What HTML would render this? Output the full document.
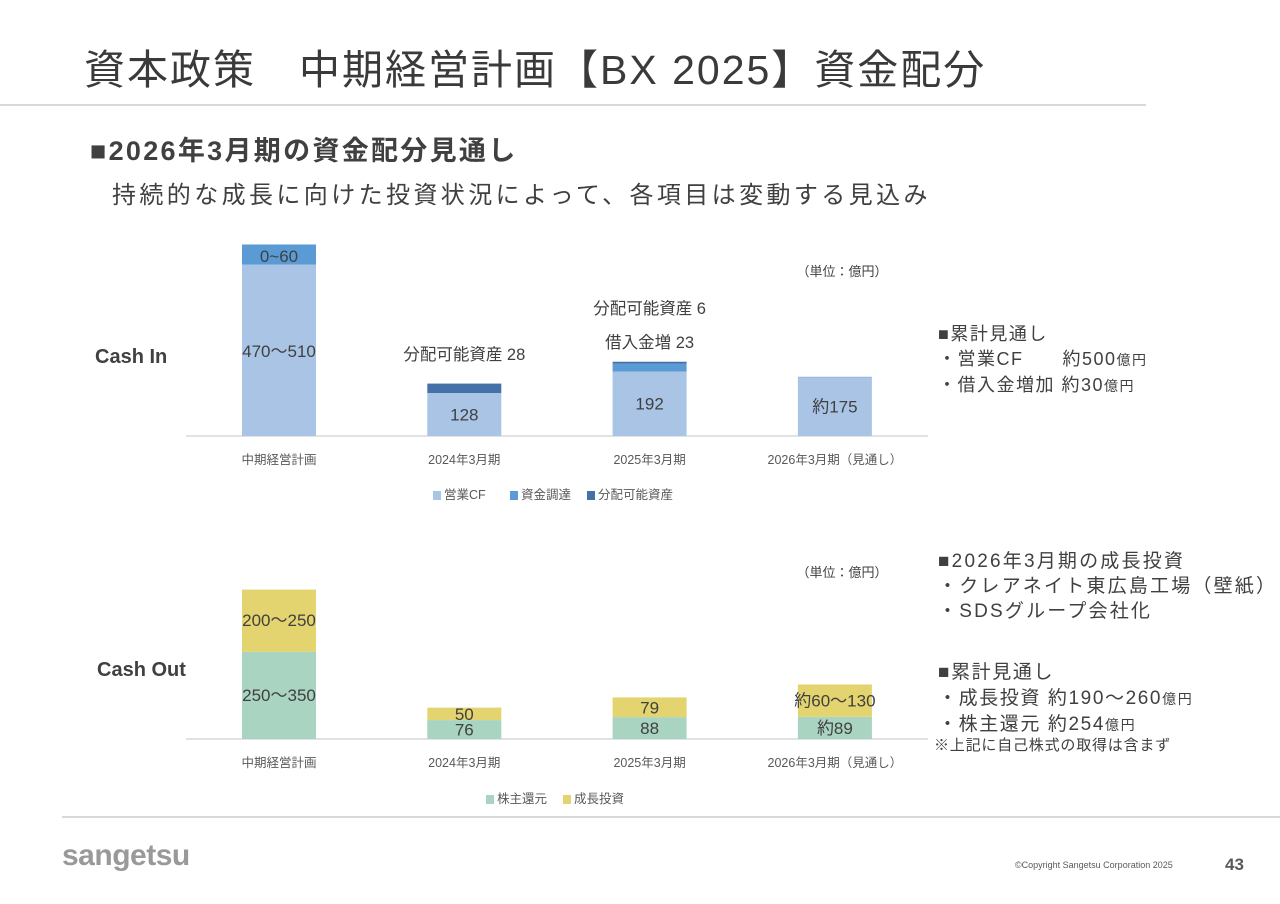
<!DOCTYPE html>
<html><head><meta charset="utf-8">
<style>
body{margin:0;width:1280px;height:904px;background:#fff;position:relative;overflow:hidden;font-family:"Liberation Sans","Noto Sans CJK JP",sans-serif;color:#404040}
.a{position:absolute;white-space:nowrap}
</style></head><body>
<div class="a" style="left:84px;top:36px;font-size:41px;letter-spacing:2px;color:#3a3a3a">資本政策　中期経営計画【BX 2025】資金配分</div>
<div class="a" style="left:0;top:104px;width:1146px;height:2px;background:#d9d9d9"></div>
<div class="a" style="left:90px;top:129px;font-size:27px;letter-spacing:2.3px;font-weight:bold">■2026年3月期の資金配分見通し</div>
<div class="a" style="left:112px;top:175px;font-size:24px;letter-spacing:3.4px">持続的な成長に向けた投資状況によって、各項目は変動する見込み</div>
<div class="a" style="left:95px;top:346px;font-size:20px;font-weight:bold">Cash In</div>
<div class="a" style="left:97px;top:659px;font-size:20px;font-weight:bold">Cash Out</div>
<div class="a" style="left:938px;top:322px;font-size:18px;line-height:25px;letter-spacing:1.5px">■累計見通し<br>・営業CF　　約500<span style="font-size:14px">億円</span><br>・借入金増加 約30<span style="font-size:14px">億円</span></div>
<div class="a" style="left:938px;top:549px;font-size:19px;line-height:25px;letter-spacing:2.2px">■2026年3月期の成長投資<br>・クレアネイト東広島工場（壁紙）<br>・SDSグループ会社化</div>
<div class="a" style="left:938px;top:660px;font-size:19px;line-height:26px;letter-spacing:1.6px">■累計見通し<br>・成長投資 約190〜260<span style="font-size:14px">億円</span><br>・株主還元 約254<span style="font-size:14px">億円</span><br><span style="font-size:15px;letter-spacing:0.8px;position:relative;top:-6px;left:-4px">※上記に自己株式の取得は含まず</span></div>
<div class="a" style="left:62px;top:816px;width:1218px;height:2px;background:#d9d9d9"></div>
<div class="a" style="left:62px;top:839px;font-size:30px;font-weight:bold;color:#999;letter-spacing:-0.5px">sangetsu</div>
<div class="a" style="left:1015px;top:860px;font-size:9px;color:#595959">©Copyright Sangetsu Corporation 2025</div>
<div class="a" style="left:1225px;top:855px;font-size:17px;font-weight:bold;color:#595959">43</div>
<svg class="a" style="left:0;top:0" width="1280" height="904">
<g id="cin"></g><g id="cout"></g>
</svg>
<script>
const categories=["中期経営計画","2024年3月期","2025年3月期","2026年3月期（見通し）"];
const inOperatingCF=[510,128,192,175];
const inFunding=[60,0,23,0];
const inDistributable=[0,28,6,1];
const inLabels=["470〜510","128","192","約175"];
const outReturns=[350,76,88,89];
const outGrowth=[250,50,79,130];
const outRetLabels=["250〜350","76","88","約89"];
const outGrowthLabels=["200〜250","50","79","約60〜130"];
const NS="http://www.w3.org/2000/svg";
const xc=i=>279+i*185.3;
function mk(g,t,a,txt){const e=document.createElementNS(NS,t);for(const k in a)e.setAttribute(k,a[k]);if(txt!==undefined)e.textContent=txt;g.appendChild(e);return e;}
function chart(gid,base,scale,series,colors,names,lblY,legendY,legendX){
 const g=document.getElementById(gid);
 const ax=mk(g,'line',{x1:186,x2:928,y1:base,y2:base,stroke:'#d9d9d9','stroke-width':1.5});
 
 categories.forEach((c,i)=>{
  let y=base;
  series.forEach((s,j)=>{const h=s[i]*scale;y-=h;if(h<=0)return;
   const r=mk(g,'rect',{x:xc(i)-37,y:y,width:74,height:h,fill:colors[j]});
   });
  const t=mk(g,'text',{x:xc(i),y:lblY,'text-anchor':'middle','font-size':12.5,fill:'#595959'},c);
  
 });
 let lx=legendX;
 names.forEach((n,j)=>{
  const r=mk(g,'rect',{x:lx,y:legendY-8,width:8,height:9,fill:colors[j]});
  
  const t=mk(g,'text',{x:lx+11,y:legendY,'font-size':12.5,fill:'#595959'},n);
  
  lx+=11+n.length*12.5+16;
 });
 return g;
}
const gi=chart('cin',436,0.336,[inOperatingCF,inFunding,inDistributable],['#aac4e6','#5b9bd5','#4472a8'],['営業CF','資金調達','分配可能資産'],464,499,433);
const go=chart('cout',739,0.249,[outReturns,outGrowth],['#a9d4c1','#e3d46f'],['株主還元','成長投資'],767,803,486);
function lab(g,x,y,s,sz){const t=mk(g,'text',{x:x,y:y,'text-anchor':'middle','font-size':sz||17,fill:'#404040'},s);
 }
inLabels.forEach((s,i)=>{const top=436-inOperatingCF[i]*0.336;const y=i==0?357:(top+436)/2+6;lab(gi,xc(i),y,s);});
lab(gi,xc(0),262,"0~60");
lab(gi,xc(1),360,"分配可能資産 28",16.5);
lab(gi,xc(2),314,"分配可能資産 6",16.5);
lab(gi,xc(2),348,"借入金増 23",16.5);
lab(gi,842,276,"（単位：億円）",13);
lab(go,842,577,"（単位：億円）",13);
outRetLabels.forEach((s,i)=>{const y=i==0?701:739-outReturns[i]*0.249/2+6;lab(go,xc(i),y,s);});
outGrowthLabels.forEach((s,i)=>{const b=739-outReturns[i]*0.249;const y=i==0?626:b-outGrowth[i]*0.249/2+6;lab(go,xc(i),y,s);});
</script>
</body></html>
